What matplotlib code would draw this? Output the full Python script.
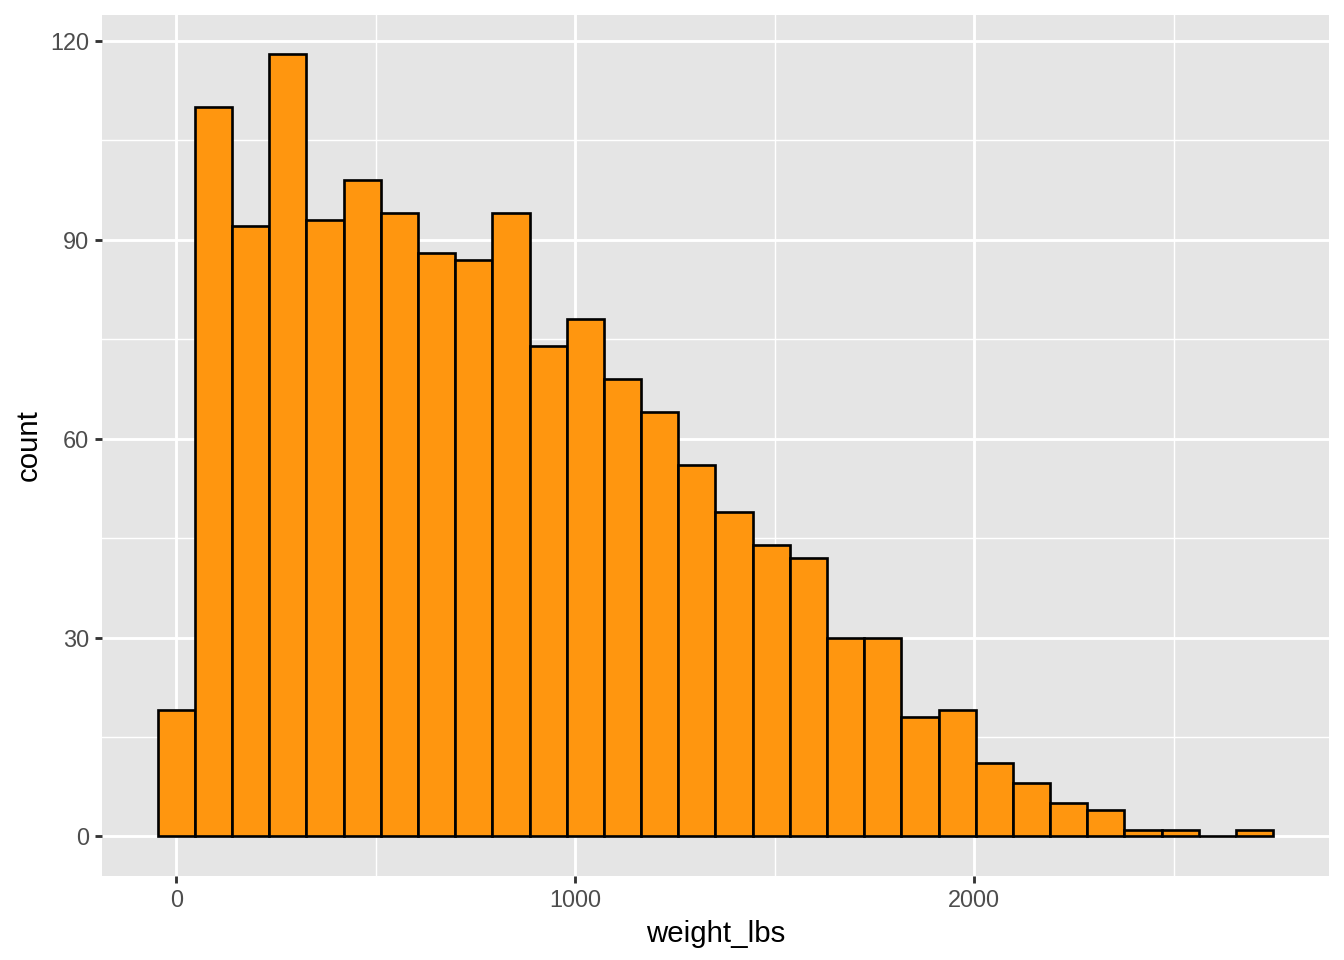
import matplotlib
matplotlib.use('Agg')
import matplotlib.pyplot as plt
import numpy as np
from matplotlib.ticker import MultipleLocator

# histogram of weight_lbs, 30 bins
bin_width = 93.2
first_center = 0.0
counts = [19, 110, 92, 118, 93, 99, 94, 88, 87, 94,
          74, 78, 69, 64, 56, 49, 44, 42, 30, 30,
          18, 19, 11, 8, 5, 4, 1, 1, 0, 1]
x_ticks = [0, 1000, 2000]
y_ticks = [0, 30, 60, 90, 120]

fill_color = '#FF960F'
panel_bg = '#E5E5E5'

plt.rcParams['font.family'] = ['Liberation Sans', 'DejaVu Sans']


def plot():
    fig = plt.figure(figsize=(7, 5), dpi=192)
    ax = fig.add_axes([0.0759, 0.088, 0.9129, 0.8964])
    ax.set_facecolor(panel_bg)

    centers = first_center + bin_width * np.arange(len(counts))
    ax.bar(centers, counts, width=bin_width, color=fill_color,
           edgecolor='black', linewidth=1.0, zorder=3)

    lo = centers[0] - bin_width / 2
    hi = centers[-1] + bin_width / 2
    pad = 0.05 * (hi - lo)
    ax.set_xlim(lo - pad, hi + pad)
    ymax = max(counts)
    ax.set_ylim(-0.05 * ymax, ymax * 1.05)

    ax.set_xticks(x_ticks)
    ax.set_yticks(y_ticks)
    ax.xaxis.set_minor_locator(MultipleLocator(500))
    ax.yaxis.set_minor_locator(MultipleLocator(15))
    ax.grid(which='major', color='white', linewidth=1.07, zorder=0)
    ax.grid(which='minor', color='white', linewidth=0.53, zorder=0)
    ax.set_axisbelow(True)

    for s in ax.spines.values():
        s.set_visible(False)
    ax.tick_params(which='major', length=2.75, width=1.07, color='#333333',
                   labelcolor='#4D4D4D', labelsize=8.8, pad=2.2)
    ax.tick_params(which='minor', length=0)

    ax.set_xlabel('weight_lbs', fontsize=11, color='black', labelpad=3)
    ax.set_ylabel('count', fontsize=11, color='black', labelpad=2.5)

    fig.savefig('out.png', dpi=192, facecolor='white')


if __name__ == '__main__':
    plot()
